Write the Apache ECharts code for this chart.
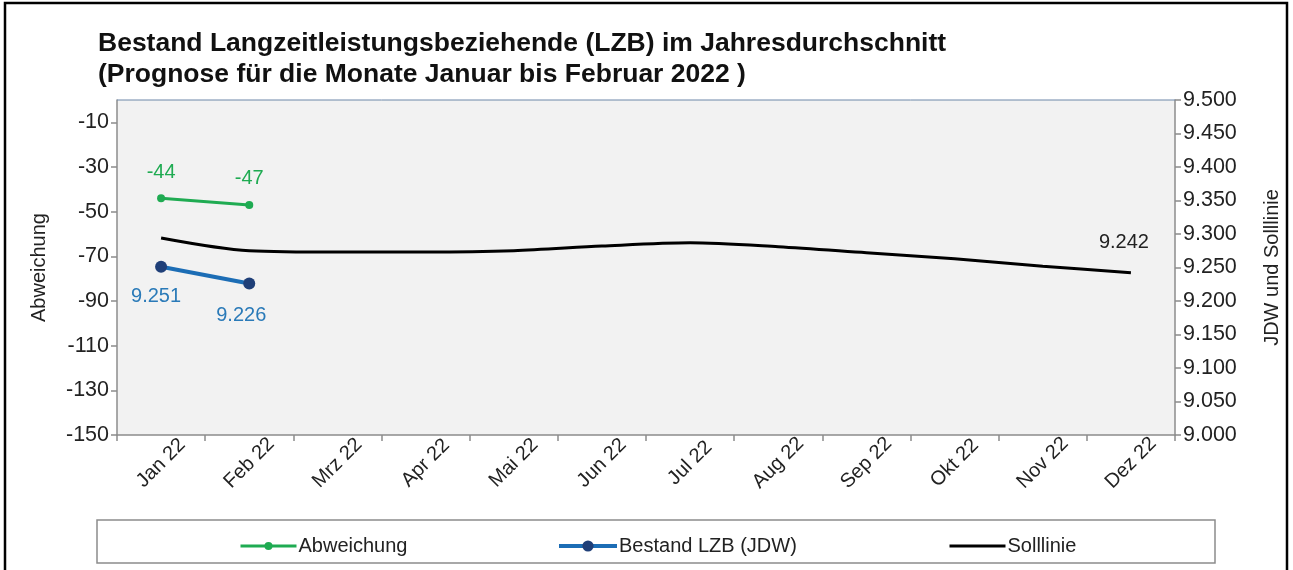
<!DOCTYPE html>
<html>
<head>
<meta charset="utf-8">
<script src="https://cdn.jsdelivr.net/npm/echarts@6/dist/echarts.min.js"></script>
<style>html,body{margin:0;padding:0;background:#fff}#c{width:1293px;height:570px}</style>
</head>
<body>
<div id="c"></div>
<script>
const categories = ['Jan 22','Feb 22','Mrz 22','Apr 22','Mai 22','Jun 22','Jul 22','Aug 22','Sep 22','Okt 22','Nov 22','Dez 22'];
const abweichung = [-44, -47, null, null, null, null, null, null, null, null, null, null];
const bestand = [9.251, 9.226, null, null, null, null, null, null, null, null, null, null];
const solllinie = [9.294, 9.275, 9.273, 9.273, 9.275, 9.282, 9.287, 9.281, 9.272, 9.263, 9.252, 9.242];
const leftTicks = {min: -150, max: 0, interval: 20};
const rightTicks = {min: 9.0, max: 9.5, interval: 0.05};

const font = 'Liberation Sans, Arial, sans-serif';
const chart = echarts.init(document.getElementById('c'));
const fmt3 = v => v.toFixed(3);
const txt = '#222';
const last = solllinie.length - 1;

chart.setOption({
  animation: false,
  backgroundColor: '#fff',
  textStyle: {fontFamily: font},
  title: {
    text: 'Bestand Langzeitleistungsbeziehende (LZB) im Jahresdurchschnitt\n(Prognose für die Monate Januar bis Februar 2022 )',
    left: 93, top: 23,
    textStyle: {fontFamily: font, fontSize: 26.5, fontWeight: 'bold', color: '#111', lineHeight: 31}
  },
  grid: {left: 117, right: 118, top: 100, bottom: 135, show: true, backgroundColor: '#f2f2f2', borderWidth: 0},
  graphic: [
    {type: 'rect', shape: {x: 5, y: 3, width: 1282, height: 570}, style: {fill: 'none', stroke: '#000', lineWidth: 2.5}, z: 100},
    {type: 'rect', shape: {x: 97, y: 520, width: 1118, height: 43}, style: {fill: '#fff', stroke: '#8c8c8c', lineWidth: 1.5}, z: -1},
    {type: 'line', shape: {x1: 117, y1: 100, x2: 1175, y2: 100}, style: {stroke: '#6d87a8', lineWidth: 1}, z: 50}
  ],
  legend: [
    {data: ['Abweichung'], left: 234, top: 531, itemWidth: 56, itemHeight: 10, itemGap: 4,
     lineStyle: {width: 3}, textStyle: {fontFamily: font, fontSize: 20, color: txt, padding: [0, 0, 0, -3]}},
    {data: ['Bestand LZB (JDW)'], left: 552, top: 531, itemWidth: 58, itemHeight: 14,
     lineStyle: {width: 4}, textStyle: {fontFamily: font, fontSize: 20, color: txt, padding: [0, 0, 0, -3]}},
    {data: ['Solllinie'], left: 943, top: 531, itemWidth: 56, itemHeight: 12,
     lineStyle: {width: 3}, itemStyle: {color: 'rgba(0,0,0,0)', borderWidth: 0},
     textStyle: {fontFamily: font, fontSize: 20, color: txt, padding: [0, 0, 0, -3]}}
  ],
  xAxis: {
    type: 'category', data: categories, boundaryGap: true,
    axisLine: {onZero: false, lineStyle: {color: '#8c8c8c', width: 1.5}},
    axisTick: {show: true, alignWithLabel: false, length: 6, lineStyle: {color: '#8c8c8c', width: 1.5}},
    axisLabel: {rotate: 45, align: 'center', verticalAlign: 'middle', fontFamily: font, fontSize: 20, color: txt, margin: 28, interval: 0},
    splitLine: {show: false}
  },
  yAxis: [
    {
      type: 'value', position: 'left', min: leftTicks.min, max: leftTicks.max, interval: leftTicks.interval,
      name: 'Abweichung', nameLocation: 'middle', nameRotate: 90, nameGap: 68,
      nameTextStyle: {fontFamily: font, fontSize: 20, color: txt},
      axisLine: {show: true, lineStyle: {color: '#8c8c8c', width: 1.5}},
      axisTick: {show: true, length: 6, lineStyle: {color: '#8c8c8c', width: 1.5}},
      axisLabel: {fontFamily: font, fontSize: 21.5, color: txt, margin: 8, showMaxLabel: false,
        formatter: v => (v === 0 ? '' : String(v))},
      splitLine: {show: false}
    },
    {
      type: 'value', position: 'right', min: rightTicks.min, max: rightTicks.max, interval: rightTicks.interval,
      name: 'JDW und Solllinie', nameLocation: 'middle', nameRotate: 90, nameGap: 87,
      nameTextStyle: {fontFamily: font, fontSize: 20, color: txt},
      axisLine: {show: true, lineStyle: {color: '#8c8c8c', width: 1.5}},
      axisTick: {show: true, length: 6, lineStyle: {color: '#8c8c8c', width: 1.5}},
      axisLabel: {fontFamily: font, fontSize: 21.5, color: txt, margin: 8, formatter: fmt3},
      splitLine: {show: false}
    }
  ],
  series: [
    {
      name: 'Abweichung', type: 'line', yAxisIndex: 0, data: abweichung,
      symbol: 'circle', symbolSize: 8, z: 5,
      lineStyle: {color: '#1fab52', width: 3}, itemStyle: {color: '#1fab52'},
      label: {show: true, position: 'top', distance: 12, fontFamily: font, fontSize: 20, color: '#1fab52'}
    },
    {
      name: 'Bestand LZB (JDW)', type: 'line', yAxisIndex: 1, data: bestand.map((v, i) => {
        if (v == null) return null;
        return {value: v, label: {offset: i === 0 ? [-5, 0] : [-8, 2]}};
      }),
      symbol: 'circle', symbolSize: 12, z: 5,
      lineStyle: {color: '#1c6db5', width: 4}, itemStyle: {color: '#1f3f78'},
      label: {show: true, position: 'bottom', distance: 14, fontFamily: font, fontSize: 20, color: '#2a7ab8', formatter: p => fmt3(p.value)}
    },
    {
      name: 'Solllinie', type: 'line', yAxisIndex: 1, data: solllinie,
      symbol: 'none', smooth: 0.3, z: 4,
      lineStyle: {color: '#000', width: 3}, itemStyle: {color: '#000'}
    },
    {
      name: 'Solllinie Wert', type: 'scatter', yAxisIndex: 1,
      data: solllinie.map((v, i) => [i, v]).filter(d => d[0] === last),
      symbol: 'circle', symbolSize: 2, itemStyle: {color: 'rgba(0,0,0,0)'}, z: 6, silent: true,
      label: {show: true, position: 'top', distance: 19, offset: [-7, 0], opacity: 1,
        fontFamily: font, fontSize: 20, color: txt, formatter: p => fmt3(p.value[1])}
    }
  ]
});
</script>
</body>
</html>
